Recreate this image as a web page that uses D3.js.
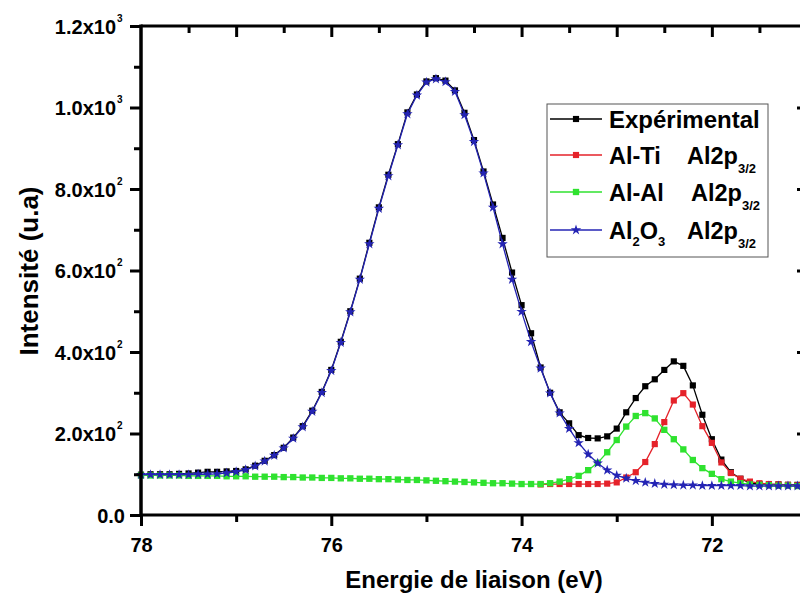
<!DOCTYPE html>
<html><head><meta charset="utf-8">
<script src="https://cdn.jsdelivr.net/npm/d3@7"></script>
<style>body{margin:0;background:#fff}svg{display:block;font-family:"Liberation Sans",Arial,sans-serif}</style>
</head><body><svg id="c" width="800" height="596"></svg>
<script>
const energies = [78.0,77.9,77.8,77.7,77.6,77.5,77.4,77.3,77.2,77.1,
  77.0,76.9,76.8,76.7,76.6,76.5,76.4,76.3,76.2,76.1,
  76.0,75.9,75.8,75.7,75.6,75.5,75.4,75.3,75.2,75.1,
  75.0,74.9,74.8,74.7,74.6,74.5,74.4,74.3,74.2,74.1,
  74.0,73.9,73.8,73.7,73.6,73.5,73.4,73.3,73.2,73.1,
  73.0,72.9,72.8,72.7,72.6,72.5,72.4,72.3,72.2,72.1,
  72.0,71.9,71.8,71.7,71.6,71.5,71.4,71.3,71.2,71.1,71.0];
const experimental = [99,100,100,100,101,102,104,106,106,107,
  108,112,121,133,147,165,190,218,256,302,
  356,425,500,580,668,755,835,910,988,1032,
  1064,1072,1066,1042,987,920,843,762,680,595,
  515,446,362,300,252,225,196,189,188,193,
  212,252,287,316,333,356,377,366,318,246,
  186,136,105,89,79,76,75,75,74,74,74];
const alTi = [null,null,null,null,null,null,null,null,null,null,
  null,null,null,null,null,null,null,null,null,null,
  null,null,null,null,null,null,null,null,null,null,
  null,null,null,null,null,null,null,null,null,null,
  null,null,75,76,76,76,76,76,76,77,
  80,92,105,130,174,228,281,299,271,218,
  177,129,103,89,82,78,76,75,74,73,73];
const alAl = [97,97,97,97,97,96,96,96,96,95,
  95,95,94,94,94,93,93,92,92,91,
  91,90,90,89,89,88,88,87,86,86,
  85,84,83,82,81,80,79,78,78,77,
  76,76,76,78,82,88,96,110,128,154,
  184,217,243,250,237,209,186,161,135,115,
  101,88,82,78,75,74,73,72,72,71,71];
const al2o3 = [99,99,99,99,99,99,100,100,101,103,
  106,111,120,132,146,164,188,216,254,300,
  354,423,498,578,665,752,832,908,984,1030,
  1062,1070,1063,1039,982,916,839,755,665,578,
  499,425,360,299,250,212,177,149,127,110,
  97,90,84,80,77,75,74,73,73,72,
  72,72,72,72,71,71,71,71,71,71,71];
const xMajorTicks = [78,76,74,72];
const yTickMantissa = ["0.0","2.0x10","4.0x10","6.0x10","8.0x10","1.0x10","1.2x10"];
const yTickExp = ["","2","2","2","2","3","3"];
const yTickValues = [0,200,400,600,800,1000,1200];

const svg = d3.select("#c");
const x = d3.scaleLinear().domain([78,71]).range([141,807]);
const y = d3.scaleLinear().domain([0,1200]).range([515,26]);

const series = [
  {name:"exp", vals:experimental, color:"#000000", sym:d3.symbolSquare, size:38},
  {name:"alti", vals:alTi, color:"#e5222a", sym:d3.symbolSquare, size:38},
  {name:"alal", vals:alAl, color:"#2fe22f", sym:d3.symbolSquare, size:40},
  {name:"al2o3", vals:al2o3, color:"#2424b4", sym:d3.symbolStar, size:34}
];

const plot = svg.append("g");
series.forEach(s=>{
  const pts = energies.map((e,i)=>({e, v:s.vals[i]})).filter(d=>d.v!==null);
  plot.append("path").datum(pts)
    .attr("fill","none").attr("stroke",s.color).attr("stroke-width",1.3)
    .attr("d", d3.line().x(d=>x(d.e)).y(d=>y(d.v)));
  plot.selectAll(null).data(pts).enter().append("path")
    .attr("transform",d=>`translate(${x(d.e)},${y(d.v)})`)
    .attr("d", d3.symbol().type(s.sym).size(s.size))
    .attr("fill",s.color);
});

// Axes
const axG = svg.append("g");
axG.append("g").attr("transform","translate(0,515)")
  .call(d3.axisBottom(x).tickValues(xMajorTicks).tickSize(11).tickFormat(d3.format("d")))
  .call(g=>{g.select(".domain").remove();
    g.selectAll("line").attr("stroke","#000").attr("stroke-width",3);
    g.selectAll("text").attr("font-size",20).attr("font-weight","bold").attr("fill","#000").attr("dy",0).attr("y",37);});
axG.append("g").attr("transform","translate(0,515)")
  .call(d3.axisBottom(x).tickValues([77,75,73]).tickSize(7).tickFormat(""))
  .call(g=>{g.select(".domain").remove(); g.selectAll("line").attr("stroke","#000").attr("stroke-width",3);});
axG.append("g").attr("transform","translate(0,26)")
  .call(d3.axisBottom(x).tickValues([77,76,75,74,73,72]).tickSize(11).tickFormat(""))
  .call(g=>{g.select(".domain").remove(); g.selectAll("line").attr("stroke","#000").attr("stroke-width",3);});
axG.append("g").attr("transform","translate(0,26)")
  .call(d3.axisBottom(x).tickValues([77.5,76.5,75.5,74.5,73.5,72.5,71.5]).tickSize(7).tickFormat(""))
  .call(g=>{g.select(".domain").remove(); g.selectAll("line").attr("stroke","#000").attr("stroke-width",3);});
axG.append("g").attr("transform","translate(141,0)")
  .call(d3.axisLeft(y).tickValues(yTickValues).tickSize(11).tickFormat(""))
  .call(g=>{g.select(".domain").remove(); g.selectAll("line").attr("stroke","#000").attr("stroke-width",3);});
axG.append("g").attr("transform","translate(141,0)")
  .call(d3.axisLeft(y).tickValues([100,300,500,700,900,1100]).tickSize(7).tickFormat(""))
  .call(g=>{g.select(".domain").remove(); g.selectAll("line").attr("stroke","#000").attr("stroke-width",3);});
axG.append("g").attr("transform","translate(807,0)")
  .call(d3.axisRight(y).tickValues([200,400,600,800,1000]).tickSize(-10).tickFormat(""))
  .call(g=>{g.select(".domain").remove(); g.selectAll("line").attr("stroke","#000").attr("stroke-width",3);});
axG.append("line").attr("x1",141).attr("x2",807).attr("y1",515).attr("y2",515).attr("stroke","#000").attr("stroke-width",3);
axG.append("line").attr("x1",141).attr("x2",807).attr("y1",26).attr("y2",26).attr("stroke","#000").attr("stroke-width",3);
axG.append("line").attr("x1",141).attr("x2",141).attr("y1",24.5).attr("y2",516.5).attr("stroke","#000").attr("stroke-width",3.5);
axG.append("line").attr("x1",807).attr("x2",807).attr("y1",24.5).attr("y2",516.5).attr("stroke","#000").attr("stroke-width",3);

// y tick labels
const yl = svg.append("g");
yTickValues.forEach((v,i)=>{
  yl.append("text").attr("x", yTickExp[i] ? 116 : 125).attr("y", y(v)+7.5)
    .attr("text-anchor","end").attr("font-size",20).attr("font-weight","bold").attr("fill","#000")
    .text(yTickMantissa[i]);
  if (yTickExp[i]) {
    yl.append("text").attr("x",117).attr("y",y(v)-4.5).attr("font-size",10).attr("font-weight","bold").text(yTickExp[i]);
  }
});

// axis titles
svg.append("text").attr("transform","translate(38,271) rotate(-90)").attr("text-anchor","middle")
  .attr("font-size",26).attr("font-weight","bold").text("Intensité (u.a)");
svg.append("text").attr("x",474).attr("y",588).attr("text-anchor","middle")
  .attr("font-size",24).attr("font-weight","bold").text("Energie de liaison (eV)");

// legend
const lg = svg.append("g");
lg.append("rect").attr("x",547).attr("y",104).attr("width",221).attr("height",153)
  .attr("fill","#fff").attr("stroke","#555").attr("stroke-width",1);
const baseY = [128,164,201,239];
series.forEach((s,i)=>{
  const ry = baseY[i]-9;
  lg.append("line").attr("x1",550).attr("x2",602).attr("y1",ry).attr("y2",ry).attr("stroke",s.color).attr("stroke-width",1.3);
  lg.append("path").attr("transform",`translate(576,${ry})`).attr("d",d3.symbol().type(s.sym).size(s.size)).attr("fill",s.color);
});
const fs = 23.5;
lg.append("text").attr("x",609).attr("y",baseY[0]).attr("font-size",fs+0.5).attr("font-weight","bold").text("Expérimental");
lg.append("text").attr("x",609).attr("y",baseY[1]).attr("font-size",fs).attr("font-weight","bold").text("Al-Ti");
lg.append("text").attr("x",609).attr("y",baseY[2]).attr("font-size",fs).attr("font-weight","bold").text("Al-Al");
const t4 = lg.append("text").attr("x",609).attr("y",baseY[3]).attr("font-size",fs).attr("font-weight","bold");
t4.append("tspan").text("Al");
t4.append("tspan").attr("font-size",13).attr("dy",7).text("2");
t4.append("tspan").attr("dy",-7).text("O");
t4.append("tspan").attr("font-size",13).attr("dy",7).text("3");
[1,2,3].forEach(i=>{
  const tt = lg.append("text").attr("x", i===2 ? 691 : 687).attr("y",baseY[i]).attr("font-size",fs).attr("font-weight","bold");
  tt.append("tspan").text("Al2p");
  tt.append("tspan").attr("font-size",13).attr("dy",9).text("3/2");
});
</script></body></html>
